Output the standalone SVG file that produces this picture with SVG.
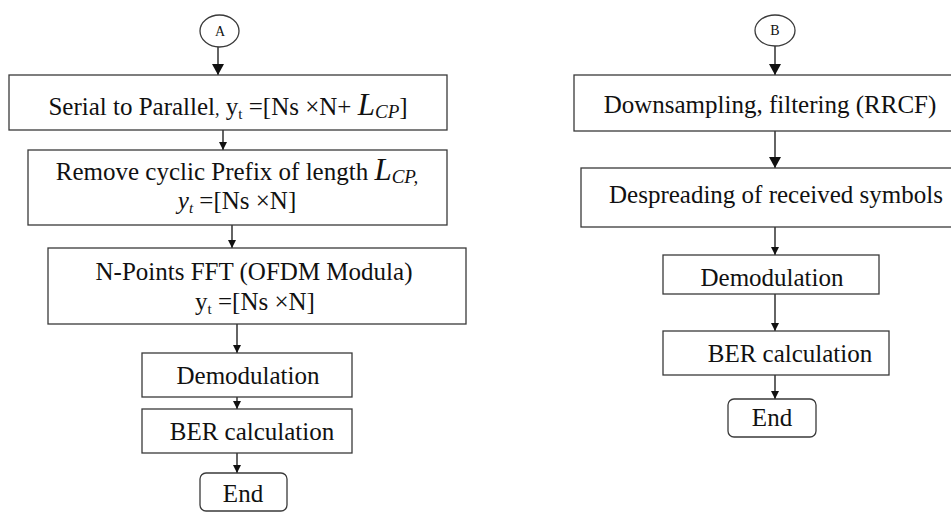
<svg xmlns="http://www.w3.org/2000/svg" width="951" height="513" viewBox="0 0 951 513">
<defs>
<style>
.box{fill:#fff;stroke:#3a3a3a;stroke-width:1.3}
.ln{stroke:#111;stroke-width:1.3;fill:none}
text{font-family:'Liberation Serif','DejaVu Serif',serif;fill:#111;text-anchor:middle}
.t{font-size:25px}
.s{font-size:14px}
.it{font-style:italic}
</style>
<marker id="big" markerWidth="12" markerHeight="12" refX="11" refY="6" orient="auto" markerUnits="userSpaceOnUse">
<path d="M0,0 L11,6 L0,12 Z" fill="#111"/>
</marker>
<marker id="sm" markerWidth="8" markerHeight="8" refX="8" refY="4" orient="auto" markerUnits="userSpaceOnUse">
<path d="M0,0 L8,4 L0,8 Z" fill="#111"/>
</marker>
</defs>
<rect width="951" height="513" fill="#fff"/>

<g id="connectors">
<line class="ln" x1="218" y1="47" x2="218" y2="75" marker-end="url(#big)"/>
<line class="ln" x1="223" y1="130" x2="223" y2="150" marker-end="url(#sm)"/>
<line class="ln" x1="232" y1="225" x2="232" y2="248" marker-end="url(#sm)"/>
<line class="ln" x1="237" y1="324" x2="237" y2="353" marker-end="url(#sm)"/>
<line class="ln" x1="237" y1="397" x2="237" y2="409" marker-end="url(#sm)"/>
<line class="ln" x1="237" y1="453" x2="237" y2="473" marker-end="url(#sm)"/>
<line class="ln" x1="775" y1="46" x2="775" y2="75" marker-end="url(#big)"/>
<line class="ln" x1="775" y1="131" x2="775" y2="168" marker-end="url(#big)"/>
<line class="ln" x1="775" y1="227" x2="775" y2="255" marker-end="url(#sm)"/>
<line class="ln" x1="775" y1="294" x2="775" y2="331" marker-end="url(#sm)"/>
<line class="ln" x1="775" y1="375" x2="775" y2="399" marker-end="url(#sm)"/>
</g>

<g id="nodeA">
<ellipse class="box" cx="219.5" cy="31" rx="19.5" ry="16"/>
<text class="s" x="220" y="36">A</text>
</g>
<g id="serial">
<rect class="box" x="9" y="75" width="438" height="55"/>
<text class="t" x="228" y="115">Serial to Parallel<tspan class="it" font-size="18">,</tspan>  y<tspan font-size="15" dy="4">t</tspan><tspan dy="-4"> =[Ns ×N+ </tspan><tspan class="it" font-size="31">L</tspan><tspan class="it" font-size="19" dy="3">CP</tspan><tspan dy="-3">]</tspan></text>
</g>
<g id="removecp">
<rect class="box" x="28" y="150" width="419" height="75"/>
<text class="t" x="237" y="180">Remove cyclic Prefix of length <tspan class="it" font-size="31">L</tspan><tspan class="it" font-size="19" dy="3">CP,</tspan></text>
<text class="t" x="237" y="209"><tspan class="it">y</tspan><tspan class="it" font-size="15" dy="4">t</tspan><tspan dy="-4"> =[Ns ×N]</tspan></text>
</g>
<g id="fft">
<rect class="box" x="48" y="248" width="418" height="76"/>
<text class="t" x="254" y="280">N-Points FFT (OFDM Modula)</text>
<text class="t" x="255" y="310">y<tspan font-size="15" dy="4">t</tspan><tspan dy="-4"> =[Ns ×N]</tspan></text>
</g>
<g id="demodA">
<rect class="box" x="142" y="353" width="210" height="44"/>
<text class="t" x="248" y="384">Demodulation</text>
</g>
<g id="berA">
<rect class="box" x="142" y="409" width="210" height="44"/>
<text class="t" x="252" y="440">BER calculation</text>
</g>
<g id="endA">
<rect class="box" x="200" y="473" width="87" height="38" rx="6"/>
<text class="t" x="243" y="502">End</text>
</g>

<g id="nodeB">
<ellipse class="box" cx="775" cy="30.5" rx="20" ry="15.5"/>
<text class="s" x="775" y="35">B</text>
</g>
<g id="downsampling">
<rect class="box" x="574" y="75" width="390" height="56"/>
<text class="t" x="770" y="113">Downsampling, filtering (RRCF)</text>
</g>
<g id="despreading">
<rect class="box" x="581" y="168" width="383" height="59"/>
<text class="t" x="776" y="203">Despreading of received symbols</text>
</g>
<g id="demodB">
<rect class="box" x="663" y="255" width="216" height="39"/>
<text class="t" x="772" y="286">Demodulation</text>
</g>
<g id="berB">
<rect class="box" x="663" y="331" width="226" height="44"/>
<text class="t" x="790" y="362">BER calculation</text>
</g>
<g id="endB">
<rect class="box" x="728" y="399" width="88" height="38" rx="6"/>
<text class="t" x="772" y="426">End</text>
</g>
</svg>
